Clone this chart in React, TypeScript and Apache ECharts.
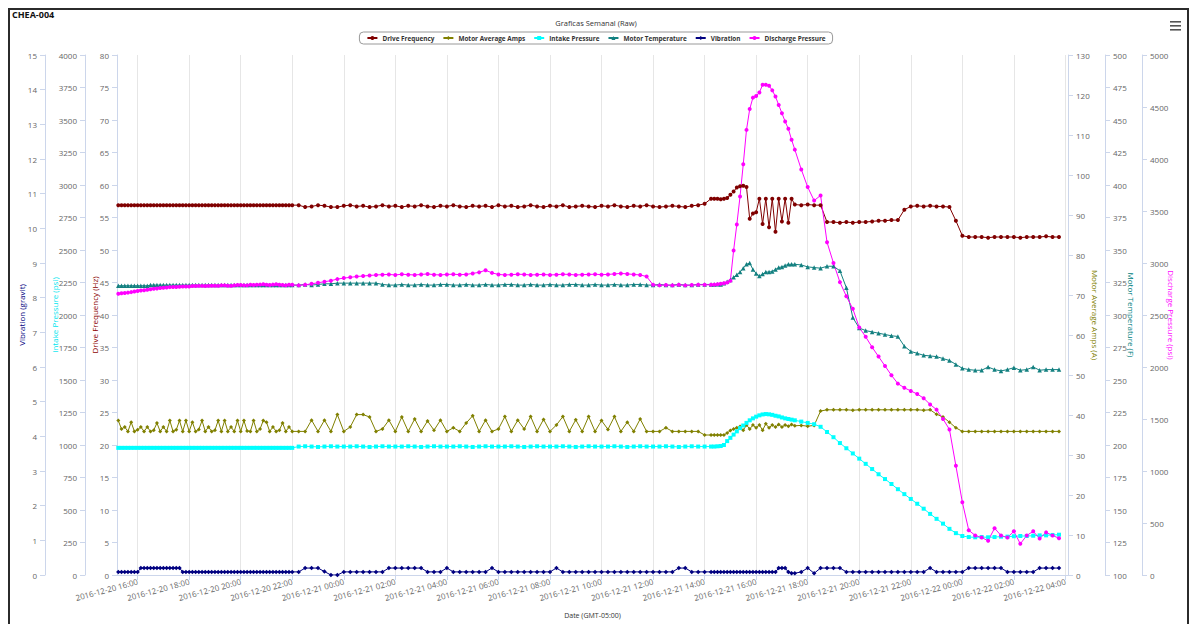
import { useEffect, useRef } from "react";
import * as echarts from "echarts";

// hours since 2016-12-20 00:00 (GMT-05:00)
const times = [
  15.25, 15.375, 15.5, 15.625, 15.75, 15.875,
  16, 16.125, 16.25, 16.375, 16.5, 16.625, 16.75, 16.875,
  17, 17.125, 17.25, 17.375, 17.5, 17.625, 17.75, 17.875,
  18, 18.125, 18.25, 18.375, 18.5, 18.625, 18.75, 18.875,
  19, 19.125, 19.25, 19.375, 19.5, 19.625, 19.75, 19.875,
  20, 20.125, 20.25, 20.375, 20.5, 20.625, 20.75, 20.875,
  21, 21.125, 21.25, 21.375, 21.5, 21.625, 21.75, 21.875,
  22,
  22.25, 22.5, 22.75,
  23, 23.25, 23.5, 23.75, 24, 24.25, 24.5, 24.75,
  25, 25.25, 25.5, 25.75, 26, 26.25, 26.5, 26.75,
  27, 27.25, 27.5, 27.75, 28, 28.25, 28.5, 28.75,
  29, 29.25, 29.5, 29.75, 30, 30.25, 30.5, 30.75,
  31, 31.25, 31.5, 31.75, 32, 32.25, 32.5, 32.75,
  33, 33.25, 33.5, 33.75, 34, 34.25, 34.5, 34.75,
  35, 35.25, 35.5, 35.75, 36, 36.25, 36.5, 36.75,
  37, 37.25, 37.5, 37.75, 38,
  38.25, 38.375, 38.5, 38.625, 38.75, 38.875,
  39, 39.125, 39.25, 39.375, 39.5, 39.625, 39.75, 39.875,
  40, 40.125, 40.25, 40.375, 40.5, 40.625, 40.75, 40.875,
  41, 41.125, 41.25, 41.375, 41.5,
  41.75,
  42, 42.25, 42.5, 42.75, 43, 43.25, 43.5, 43.75,
  44, 44.25, 44.5, 44.75, 45, 45.25, 45.5, 45.75,
  46, 46.25, 46.5, 46.75, 47, 47.25, 47.5, 47.75,
  48, 48.25, 48.5, 48.75, 49, 49.25, 49.5, 49.75,
  50, 50.25, 50.5, 50.75, 51, 51.25, 51.5, 51.75,
];

const xTickValues = [16, 18, 20, 22, 24, 26, 28, 30, 32, 34, 36, 38, 40, 42, 44, 46, 48, 50, 52];
const xTickLabels = [
  "2016-12-20 16:00", "2016-12-20 18:00", "2016-12-20 20:00", "2016-12-20 22:00",
  "2016-12-21 00:00", "2016-12-21 02:00", "2016-12-21 04:00", "2016-12-21 06:00",
  "2016-12-21 08:00", "2016-12-21 10:00", "2016-12-21 12:00", "2016-12-21 14:00",
  "2016-12-21 16:00", "2016-12-21 18:00", "2016-12-21 20:00", "2016-12-21 22:00",
  "2016-12-22 00:00", "2016-12-22 02:00", "2016-12-22 04:00",
];

const driveFrequency = [
  56.9, 56.9, 56.9, 56.9, 56.9, 56.9, 56.9, 56.9, 56.9, 56.9, 56.9,
  56.9, 56.9, 56.9, 56.9, 56.9, 56.9, 56.9, 56.9, 56.9, 56.9, 56.9,
  56.9, 56.9, 56.9, 56.9, 56.9, 56.9, 56.9, 56.9, 56.9, 56.9, 56.9,
  56.9, 56.9, 56.9, 56.9, 56.9, 56.9, 56.9, 56.9, 56.9, 56.9, 56.9,
  56.9, 56.9, 56.9, 56.9, 56.9, 56.9, 56.9, 56.9, 56.9, 56.9, 56.9,
  56.9, 56.6, 56.7, 56.9, 56.8, 56.6, 56.6, 56.8,
  56.9, 56.7, 56.8, 56.6, 56.7, 56.9, 56.7, 56.8,
  56.6, 56.8, 56.7, 56.9, 56.7, 56.6, 56.8, 56.7,
  56.9, 56.7, 56.6, 56.8, 56.7, 56.8, 56.6, 56.9,
  56.7, 56.8, 56.6, 56.7, 56.9, 56.7, 56.6, 56.8,
  56.7, 56.9, 56.6, 56.7, 56.8, 56.7, 56.6, 56.8,
  56.7, 56.9, 56.7, 56.6, 56.8, 56.7, 56.9, 56.7,
  56.6, 56.7, 56.8, 56.7, 56.6, 56.8, 56.9, 57.1,
  57.9, 57.9, 57.9, 57.8, 57.9, 58.0, 58.5, 59.0, 59.6, 59.8, 59.9, 59.7, 54.8, 55.6,
  55.8, 57.9, 54.0, 57.9, 53.5, 57.9, 52.8, 57.9, 54.4, 57.9, 54.2, 57.9, 57.0,
  56.9, 57.0, 56.9, 56.9, 54.3, 54.3, 54.2, 54.3, 54.2, 54.3, 54.3,
  54.4, 54.5, 54.5, 54.6, 54.6, 56.2, 56.7, 56.8, 56.7, 56.8, 56.7,
  56.7, 56.6, 54.5, 52.2, 52.0, 52.0, 52.0, 51.9, 52.0, 52.0, 52.0,
  52.0, 51.9, 52.0, 52.0, 52.0, 52.1, 52.0, 52.0,
];

const motorAverageAmps = [
  38.6, 36.5, 37.0, 35.9, 38.2, 35.9, 36.3, 37.0, 35.9, 37.0, 35.9,
  36.2, 38.0, 35.9, 37.0, 35.9, 38.6, 35.9, 36.3, 38.6, 35.9, 38.6,
  35.9, 38.2, 35.9, 36.4, 38.6, 35.9, 37.0, 35.9, 36.2, 38.6, 35.9,
  38.6, 35.9, 37.0, 35.9, 38.6, 35.9, 38.6, 36.0, 35.9, 38.6, 35.9,
  36.5, 38.6, 38.2, 35.9, 37.0, 35.9, 36.2, 38.0, 35.9, 37.0, 35.9,
  35.9, 35.9, 38.7, 35.9, 38.7, 35.9, 40.1, 35.9,
  37.0, 40.1, 40.1, 39.5, 35.9, 36.5, 38.7, 35.9,
  39.5, 35.9, 39.0, 35.9, 38.5, 36.2, 38.7, 35.9,
  36.8, 35.9, 38.0, 39.8, 35.9, 38.7, 35.9, 36.5,
  39.6, 35.9, 38.7, 36.5, 39.6, 35.9, 38.9, 35.9,
  37.5, 39.6, 35.9, 38.8, 35.9, 39.6, 35.9, 38.6,
  36.4, 39.6, 35.9, 38.2, 35.9, 39.0, 35.9, 35.9,
  35.9, 36.8, 35.9, 35.9, 35.9, 35.9, 35.9, 35.0,
  35.0, 35.0, 35.0, 35.0, 35.0, 35.5, 36.1, 36.5, 36.8, 37.1, 36.2, 37.5, 36.5, 37.5,
  36.8, 37.5, 36.2, 37.8, 36.8, 37.5, 37.0, 37.6, 37.0, 37.5, 37.2, 37.6, 37.3,
  37.4, 37.2, 37.4, 41.0, 41.3, 41.3, 41.3, 41.3, 41.2, 41.3, 41.3,
  41.3, 41.3, 41.3, 41.3, 41.3, 41.3, 41.3, 41.3, 41.2, 41.3, 40.2,
  39.5, 38.2, 36.8, 35.9, 35.9, 35.9, 35.9, 35.9, 35.9, 35.9, 35.9,
  35.9, 35.9, 35.9, 35.9, 35.9, 35.9, 35.9, 35.9,
];

const intakePressure = [
  978, 978, 978, 978, 978, 978, 978, 978, 978, 978, 978,
  978, 978, 978, 978, 978, 978, 978, 978, 978, 978, 978,
  978, 978, 978, 978, 978, 978, 978, 978, 978, 978, 978,
  978, 978, 978, 978, 978, 978, 978, 978, 978, 978, 978,
  978, 978, 978, 978, 978, 978, 978, 978, 978, 978, 978,
  988, 990, 988, 985, 988, 990, 988, 988,
  988, 990, 988, 985, 988, 990, 988, 988,
  988, 990, 988, 985, 988, 990, 988, 988,
  988, 990, 988, 985, 988, 990, 988, 988,
  988, 990, 988, 985, 988, 990, 988, 988,
  988, 990, 988, 985, 988, 990, 988, 988,
  988, 990, 988, 985, 988, 990, 988, 988,
  988, 990, 988, 985, 988, 990, 988, 988,
  988, 988, 990, 992, 1000, 1030, 1055, 1080, 1105, 1130, 1150, 1170, 1190, 1205,
  1218, 1228, 1235, 1238, 1236, 1232, 1225, 1220, 1212, 1205, 1200, 1195, 1190,
  1180, 1170, 1160, 1140, 1100, 1060, 1015, 975, 935, 895, 855,
  815, 775, 738, 700, 660, 622, 585, 548, 510, 470, 432,
  395, 355, 322, 300, 292, 290, 292, 290, 292, 295, 295,
  298, 300, 300, 302, 305, 305, 308, 310,
];

const motorTemperature = [
  322.5, 322.5, 322.5, 322.5, 322.5, 322.5, 322.5, 322.5, 322.5, 322.5, 323,
  323, 323, 323, 323, 323, 323, 323, 323, 323, 323, 323,
  323, 323, 323, 323, 323, 323, 323, 323, 323, 323, 323,
  323, 323, 323, 323, 323, 323, 323, 323, 323, 323, 323,
  323, 323, 323, 323, 323, 323, 323, 323, 323, 323, 323,
  323, 323.5, 323, 323.5, 324, 324,
  324.5, 324.5, 324.5, 324.5, 324.5, 324.5, 324.5,
  323.5, 323, 323, 323.5, 323, 323, 323.5, 323, 323, 323.5,
  323.5, 323, 323, 323.5, 323, 323, 323.5, 323, 323, 323.5,
  323.5, 323, 323, 323.5, 323, 323, 323.5, 323, 323, 323.5,
  323.5, 323, 323, 323.5, 323, 323, 323.5, 323, 323, 323.5,
  323.5, 323, 323, 323.5, 323, 323, 323.5, 323, 323, 323.5,
  323.5,
  323.5, 323.5, 323.7, 323.5, 324.5, 325.5, 327, 329, 331, 333, 336, 339, 340, 335,
  332, 330, 331.5, 333, 333, 333.5, 335, 336.5, 337, 338, 339, 339, 339,
  338.5, 337, 336.5, 336, 337.5, 337.5, 334, 321, 298, 290, 288,
  287, 286, 285, 284, 283.5, 276, 272, 270.5, 269, 268.5, 268,
  266.5, 265, 262, 259, 258, 257.5, 257.5, 260, 258, 257, 258,
  259.5, 257.5, 258, 260, 257.5, 258, 258, 258,
];

const vibration = [
  0.09, 0.09, 0.09, 0.09, 0.09, 0.09, 0.09, 0.2, 0.2, 0.2, 0.2,
  0.2, 0.2, 0.2, 0.2, 0.2, 0.2, 0.2, 0.2, 0.2, 0.09, 0.09,
  0.09, 0.09, 0.09, 0.09, 0.09, 0.09, 0.09, 0.09, 0.09, 0.09, 0.09,
  0.09, 0.09, 0.09, 0.09, 0.09, 0.09, 0.09, 0.09, 0.09, 0.09, 0.09,
  0.09, 0.09, 0.09, 0.09, 0.09, 0.09, 0.09, 0.09, 0.09, 0.09, 0.09,
  0.09, 0.2, 0.2, 0.2, 0.1, 0.0, 0.0, 0.09,
  0.09, 0.09, 0.09, 0.09, 0.09, 0.09, 0.2, 0.2,
  0.2, 0.2, 0.2, 0.2, 0.09, 0.09, 0.09, 0.2,
  0.09, 0.09, 0.09, 0.09, 0.09, 0.09, 0.2, 0.09,
  0.09, 0.09, 0.09, 0.09, 0.09, 0.09, 0.09, 0.09,
  0.2, 0.09, 0.09, 0.09, 0.09, 0.09, 0.09, 0.09,
  0.09, 0.09, 0.09, 0.09, 0.09, 0.09, 0.09, 0.09,
  0.09, 0.09, 0.09, 0.2, 0.2, 0.09, 0.09, 0.09,
  0.09, 0.09, 0.09, 0.09, 0.09, 0.09, 0.09, 0.09, 0.09, 0.09, 0.09, 0.09, 0.09, 0.09,
  0.09, 0.09, 0.09, 0.09, 0.09, 0.09, 0.09, 0.2, 0.2, 0.2, 0.09, 0.05, 0.05,
  0.09, 0.2, 0.05, 0.2, 0.2, 0.2, 0.2, 0.09, 0.09, 0.09, 0.09,
  0.09, 0.09, 0.09, 0.09, 0.09, 0.09, 0.09, 0.09, 0.09, 0.2, 0.09,
  0.09, 0.09, 0.09, 0.09, 0.2, 0.2, 0.2, 0.2, 0.2, 0.2, 0.09,
  0.09, 0.09, 0.09, 0.09, 0.2, 0.2, 0.2, 0.2,
];

const dischargePressure = [
  2705, 2710, 2712, 2715, 2720, 2725,
  2730, 2735, 2738, 2742, 2748, 2752, 2755, 2760,
  2762, 2765, 2768, 2770, 2770, 2772, 2775, 2775,
  2775, 2778, 2778, 2780, 2780, 2778, 2780, 2782,
  2782, 2780, 2785, 2785, 2782, 2780, 2785, 2788,
  2788, 2785, 2785, 2790, 2788, 2790, 2792, 2795,
  2790, 2788, 2792, 2795, 2790, 2788, 2785, 2790, 2790,
  2785, 2790, 2800, 2810, 2820, 2830, 2845, 2855, 2862, 2870, 2875, 2880, 2885, 2888,
  2890, 2885, 2892, 2888, 2885, 2890, 2895, 2888, 2885, 2890, 2892, 2888, 2890, 2900,
  2910, 2930, 2905,
  2890, 2885, 2888, 2892, 2890, 2885, 2888, 2890, 2885, 2888, 2892, 2890,
  2885, 2888, 2890, 2892, 2888, 2890, 2895, 2900, 2895, 2890, 2885,
  2870, 2790, 2785, 2788, 2785, 2790, 2785, 2788, 2790, 2790,
  2790, 2792, 2795, 2800, 2805, 2812, 2830, 3120, 3370, 3640, 3950, 4280, 4480, 4590,
  4605, 4640, 4713, 4713, 4705, 4660, 4600, 4520, 4440, 4360, 4290, 4185, 4090,
  3900, 3730, 3600, 3650, 3200, 3000, 2816, 2680, 2560, 2380, 2290,
  2190, 2100, 2010, 1920, 1840, 1800, 1770, 1740, 1700, 1640, 1590,
  1500, 1400, 1050, 700, 430, 380, 360, 330, 450, 380, 360,
  420, 300, 380, 420, 350, 410, 380, 354,
];

const FONT = "'Open Sans', 'DejaVu Sans', sans-serif";

function yAxisDef(
  name: string,
  color: string,
  position: "left" | "right",
  offset: number,
  min: number,
  max: number,
  interval: number,
  nameGap: number
) {
  return {
    type: "value",
    name,
    position,
    offset,
    min,
    max,
    interval,
    nameLocation: "middle",
    nameGap,
    nameMoveOverlap: false,
    nameRotate: position === "left" ? 90 : -90,
    nameTextStyle: { color, fontSize: 8, fontFamily: FONT },
    axisLine: { show: true, lineStyle: { color: "#ccd6eb", width: 1 } },
    axisTick: { show: true, length: 5, lineStyle: { color: "#ccd6eb" } },
    axisLabel: {
      color: "#666",
      fontSize: 8,
      margin: 8,
      fontFamily: FONT,
      formatter: (v: number) => String(v),
    },
    splitLine: { show: false },
  };
}

function seriesDef(
  name: string,
  values: number[],
  yAxisIndex: number,
  color: string,
  symbol: string,
  symbolSize: number
) {
  return {
    name,
    type: "line",
    yAxisIndex,
    data: times.map((t, i) => [t, values[i]]),
    symbol,
    symbolSize,
    showSymbol: true,
    itemStyle: { color },
    lineStyle: { color, width: 1 },
    emphasis: { disabled: true },
  };
}

export default function App() {
  const ref = useRef<HTMLDivElement>(null);

  useEffect(() => {
    if (!ref.current) return;
    const chart = echarts.init(ref.current, null, { renderer: "svg" });
    const option = {
      animation: false,
      backgroundColor: "#ffffff",
      textStyle: { fontFamily: FONT },
      title: [
        {
          text: "CHEA-004",
          left: 12,
          top: 10,
          padding: 0,
          textStyle: { fontSize: 9, fontWeight: "bold", color: "#111", fontFamily: FONT },
        },
        {
          text: "Graficas Semanal (Raw)",
          left: "center",
          top: 19,
          padding: 0,
          textStyle: { fontSize: 7.5, fontWeight: "normal", color: "#333", fontFamily: FONT },
        },
      ],
      legend: {
        top: 32,
        left: "center",
        padding: [3, 7],
        itemGap: 8,
        itemWidth: 10,
        itemHeight: 5,
        borderColor: "#999",
        borderWidth: 1,
        borderRadius: 4,
        textStyle: { fontSize: 6.4, fontWeight: "bold", color: "#333", fontFamily: FONT },
        data: [
          "Drive Frequency",
          "Motor Average Amps",
          "Intake Pressure",
          "Motor Temperature",
          "Vibration",
          "Discharge Pressure",
        ],
      },
      grid: { left: 117, right: 124, top: 55, bottom: 47, containLabel: false },
      xAxis: {
        type: "value",
        min: 15.2,
        max: 52.1,
        name: "Date (GMT-05:00)",
        nameLocation: "middle",
        nameGap: 37,
        nameMoveOverlap: false,
        nameTextStyle: { color: "#333", fontSize: 7, fontFamily: FONT },
        axisLine: { show: true, lineStyle: { color: "#ccd6eb" } },
        axisTick: { show: true, length: 5, customValues: xTickValues, lineStyle: { color: "#ccd6eb" } },
        axisLabel: {
          customValues: xTickValues,
          rotate: 15,
          fontSize: 8,
          color: "#666",
          margin: 6,
          fontFamily: FONT,
          formatter: (v: number) => {
            const i = xTickValues.indexOf(Math.round(v));
            return i >= 0 ? xTickLabels[i] : "";
          },
        },
        splitLine: { show: true, lineStyle: { color: "#e6e6e6", width: 1 } },
      },
      yAxis: [
        yAxisDef("Vibration (gravit)", "#000080", "left", 72, 0, 15, 1, 20),
        yAxisDef("Intake Pressure (psi)", "#00e5ee", "left", 32, 0, 4000, 250, 27),
        yAxisDef("Drive Frequency (Hz)", "#8b0000", "left", 0, 0, 80, 5, 19),
        yAxisDef("Motor Average Amps (A)", "#808000", "right", 0, 0, 130, 10, 23),
        yAxisDef("Motor Temperature (F)", "#008080", "right", 37, 100, 500, 25, 22),
        yAxisDef("Discharge Pressure (psi)", "#ff00ff", "right", 74, 0, 5000, 500, 25),
      ],
      graphic: [
        { type: "rect", shape: { x: 1170, y: 21, width: 11, height: 1.6 }, style: { fill: "#555" } },
        { type: "rect", shape: { x: 1170, y: 25, width: 11, height: 1.6 }, style: { fill: "#555" } },
        { type: "rect", shape: { x: 1170, y: 29, width: 11, height: 1.6 }, style: { fill: "#555" } },
      ],
      series: [
        seriesDef("Drive Frequency", driveFrequency, 2, "#800000", "circle", 4),
        seriesDef("Motor Average Amps", motorAverageAmps, 3, "#808000", "diamond", 4),
        seriesDef("Intake Pressure", intakePressure, 1, "#00ffff", "rect", 4),
        seriesDef("Motor Temperature", motorTemperature, 4, "#138080", "triangle", 4.5),
        seriesDef("Vibration", vibration, 0, "#000080", "diamond", 4.5),
        seriesDef("Discharge Pressure", dischargePressure, 5, "#ff00ff", "circle", 4),
      ],
    };
    chart.setOption(option as any);
    return () => chart.dispose();
  }, []);

  return (
    <>
      <div ref={ref} style={{ position: "fixed", left: 0, top: 0, width: 1192, height: 624 }} />
      <div
        style={{
          position: "fixed",
          left: 8,
          top: 8,
          width: 1181,
          height: 640,
          border: "2px solid #2b2b2b",
          boxSizing: "border-box",
          pointerEvents: "none",
        }}
      />
    </>
  );
}
